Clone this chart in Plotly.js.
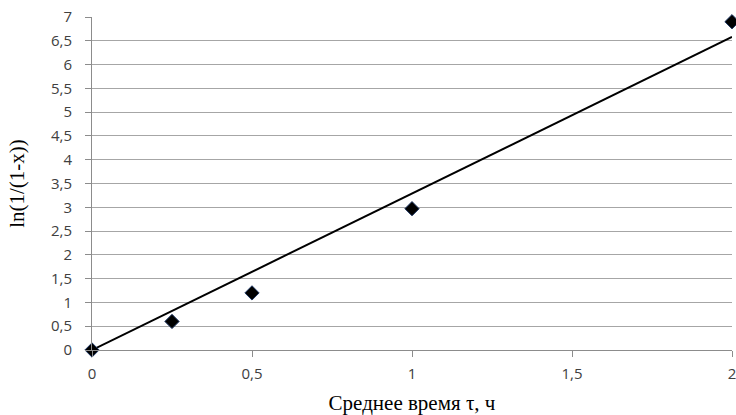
<!DOCTYPE html>
<html>
<head>
<meta charset="utf-8">
<script src="https://cdn.plot.ly/plotly-3.0.1.min.js"></script>
<style>html,body{margin:0;padding:0;background:#fff;}#chart{width:736px;height:415px;}</style>
</head>
<body>
<div id="chart"></div>
<script>
var timeH = [0, 0.25, 0.5, 1, 2];
var lnValues = [0, 0.6, 1.2, 2.97, 6.9];
var trendX = [0, 2];
var trendY = [0, 6.58];
var xTicks = [0, 0.5, 1, 1.5, 2];
var yTicks = [0, 0.5, 1, 1.5, 2, 2.5, 3, 3.5, 4, 4.5, 5, 5.5, 6, 6.5, 7];

var data = [
  {x: trendX, y: trendY, type: 'scatter', mode: 'lines',
   line: {color: '#000000', width: 2}, hoverinfo: 'skip', showlegend: false},
  {x: timeH, y: lnValues, type: 'scatter', mode: 'markers',
   marker: {symbol: 'diamond', size: 11, color: '#000000', line: {color: '#1f3864', width: 1}},
   showlegend: false, cliponaxis: false}
];

var layout = {
  width: 736, height: 415,
  margin: {l: 92, r: 4, t: 17, b: 65},
  paper_bgcolor: '#ffffff', plot_bgcolor: '#ffffff',
  separators: ',.',
  showlegend: false,
  font: {family: 'Open Sans, Liberation Sans, sans-serif', size: 15, color: '#404040'},
  xaxis: {
    range: [0, 2], tickvals: xTicks, ticks: 'outside', ticklen: 6, tickcolor: '#8c8c8c',
    showgrid: false, zeroline: false, showline: true, linecolor: '#8c8c8c', linewidth: 1,
    tickfont: {size: 15, color: '#404040'}, ticklabelstandoff: 4, ticklabeloverflow: 'allow',
    title: {text: 'Среднее время τ, ч', font: {family: 'Liberation Serif, Times New Roman, serif', size: 21, color: '#000'}, standoff: 14}
  },
  yaxis: {
    range: [0, 7], tickvals: yTicks, ticks: 'outside', ticklen: 6, tickcolor: '#8c8c8c',
    showgrid: true, gridcolor: '#a6a6a6', gridwidth: 1, zeroline: false,
    showline: true, linecolor: '#8c8c8c', linewidth: 1,
    tickfont: {size: 15, color: '#404040'}, ticklabelstandoff: 10, ticklabeloverflow: 'allow',
    title: {text: 'ln(1/(1-x))', font: {family: 'Liberation Serif, Times New Roman, serif', size: 21, color: '#000'}, standoff: 20}
  }
};

Plotly.newPlot('chart', data, layout, {staticPlot: true, displayModeBar: false});
</script>
</body>
</html>
